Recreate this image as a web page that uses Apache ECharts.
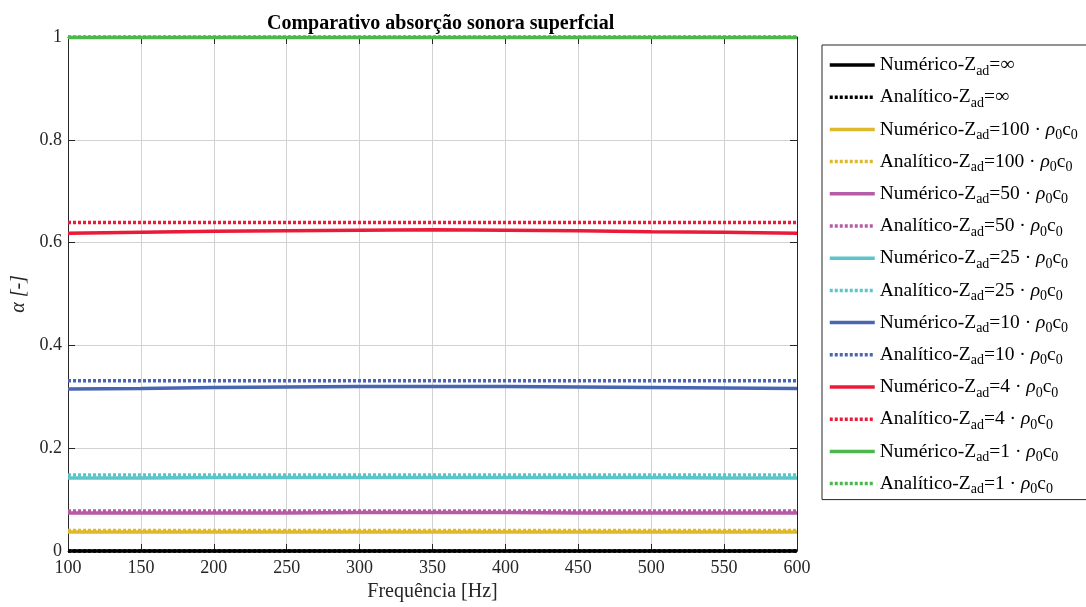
<!DOCTYPE html>
<html>
<head>
<meta charset="utf-8">
<script src="https://cdn.jsdelivr.net/npm/echarts@6/dist/echarts.min.js"></script>
<style>html,body{margin:0;padding:0;background:#fff;overflow:hidden;}#c{width:1086px;height:607px;}</style>
</head>
<body>
<div id="c"></div>
<script>
// ---- data ----
const freqs = [100, 150, 200, 250, 300, 350, 400, 450, 500, 550, 600];
const impedances = ['∞', '100', '50', '25', '10', '4', '1'];
const colors = ['#000000', '#e0b82b', '#b65ba7', '#5bc5ca', '#4a66b0', '#ea1b38', '#4cb84a'];
const numInf  = [0, 0, 0, 0, 0, 0, 0, 0, 0, 0, 0];
const anaInf  = [0, 0, 0, 0, 0, 0, 0, 0, 0, 0, 0];
const num100  = [0.037, 0.037, 0.037, 0.037, 0.037, 0.037, 0.037, 0.037, 0.037, 0.037, 0.037];
const ana100  = [0.040, 0.040, 0.040, 0.040, 0.040, 0.040, 0.040, 0.040, 0.040, 0.040, 0.040];
const num50   = [0.074, 0.074, 0.074, 0.074, 0.075, 0.075, 0.075, 0.074, 0.074, 0.074, 0.074];
const ana50   = [0.078, 0.078, 0.078, 0.078, 0.078, 0.078, 0.078, 0.078, 0.078, 0.078, 0.078];
const num25   = [0.142, 0.142, 0.143, 0.143, 0.143, 0.143, 0.143, 0.143, 0.143, 0.142, 0.142];
const ana25   = [0.148, 0.148, 0.148, 0.148, 0.148, 0.148, 0.148, 0.148, 0.148, 0.148, 0.148];
const num10   = [0.315, 0.316, 0.318, 0.319, 0.320, 0.320, 0.320, 0.319, 0.318, 0.317, 0.316];
const ana10   = [0.331, 0.331, 0.331, 0.331, 0.331, 0.331, 0.331, 0.331, 0.331, 0.331, 0.331];
const num4    = [0.618, 0.620, 0.622, 0.623, 0.624, 0.625, 0.624, 0.623, 0.621, 0.620, 0.618];
const ana4    = [0.639, 0.639, 0.639, 0.639, 0.639, 0.639, 0.639, 0.639, 0.639, 0.639, 0.639];
const num1    = [0.999, 0.999, 0.999, 0.999, 0.999, 0.999, 0.999, 0.999, 0.999, 0.999, 0.999];
const ana1    = [1.0, 1.0, 1.0, 1.0, 1.0, 1.0, 1.0, 1.0, 1.0, 1.0, 1.0];
const numericalSets = [numInf, num100, num50, num25, num10, num4, num1];
const analyticSets  = [anaInf, ana100, ana50, ana25, ana10, ana4, ana1];
const xTicks = [100, 150, 200, 250, 300, 350, 400, 450, 500, 550, 600];
const yTicks = [0, 0.2, 0.4, 0.6, 0.8, 1];

const FONT = '"Liberation Serif", "DejaVu Serif", serif';

const series = [];
const legendMeta = {};
impedances.forEach((z, i) => {
  const pairs = [['Numérico', numericalSets[i], 'solid'], ['Analítico', analyticSets[i], [3, 2]]];
  pairs.forEach(([kind, vals, ltype]) => {
    const name = kind + '-Zad=' + z;
    legendMeta[name] = {kind: kind, z: z};
    series.push({
      name: name,
      type: 'line',
      data: freqs.map((f, k) => [f, vals[k]]),
      showSymbol: false,
      symbol: 'none',
      clip: false,
      color: colors[i],
      lineStyle: {color: colors[i], width: 3.5, type: ltype},
      emphasis: {disabled: true},
      silent: true,
      animation: false
    });
  });
});

function legendFmt(name) {
  const m = legendMeta[name];
  let s = '{t|' + m.kind + '-Z}{sub|ad}';
  if (m.z === '∞') {
    s += '{t|=∞}';
  } else {
    s += '{t|=' + m.z + ' · }{it|ρ}{sub|0}{t|c}{sub|0}';
  }
  return s;
}

const chart = echarts.init(document.getElementById('c'), null, {renderer: 'canvas', width: 1086, height: 607});
chart.setOption({
  animation: false,
  backgroundColor: '#ffffff',
  title: {
    text: 'Comparativo absorção sonora superfcial',
    left: 262, top: 9,
    textStyle: {fontFamily: FONT, fontSize: 20, fontWeight: 'bold', color: '#000'}
  },
  grid: {left: 68, top: 37, width: 729, height: 520, containLabel: false},
  xAxis: [{
    type: 'value', min: 100, max: 600, interval: 50,
    name: 'Frequência [Hz]', nameLocation: 'middle', nameGap: 31,
    nameTextStyle: {fontFamily: FONT, fontSize: 20, color: '#262626'},
    axisLine: {show: true, lineStyle: {color: '#262626', width: 1}},
    axisTick: {show: true, inside: true, length: 7, lineStyle: {color: '#262626'}},
    axisLabel: {fontFamily: FONT, fontSize: 18, color: '#262626', margin: 8},
    splitLine: {show: true, lineStyle: {color: '#d2d2d2', width: 1}}
  }, {
    type: 'value', position: 'top', min: 100, max: 600, interval: 50,
    axisLine: {show: true, onZero: false, lineStyle: {color: '#262626', width: 1}},
    axisTick: {show: true, inside: true, length: 7, lineStyle: {color: '#262626'}},
    axisLabel: {show: false}, splitLine: {show: false}
  }],
  yAxis: [{
    type: 'value', min: 0, max: 1, interval: 0.2,
    name: 'α [-]', nameLocation: 'middle', nameGap: 32, nameRotate: 90,
    nameTextStyle: {fontFamily: FONT, fontSize: 20, color: '#262626', fontStyle: 'italic'},
    axisLine: {show: true, lineStyle: {color: '#262626', width: 1}},
    axisTick: {show: true, inside: true, length: 7, lineStyle: {color: '#262626'}},
    axisLabel: {fontFamily: FONT, fontSize: 18, color: '#262626', margin: 6,
      formatter: v => String(+v.toFixed(1))},
    splitLine: {show: true, lineStyle: {color: '#d2d2d2', width: 1}}
  }, {
    type: 'value', position: 'right', min: 0, max: 1, interval: 0.2,
    axisLine: {show: true, onZero: false, lineStyle: {color: '#262626', width: 1}},
    axisTick: {show: true, inside: true, length: 7, lineStyle: {color: '#262626'}},
    axisLabel: {show: false}, splitLine: {show: false}
  }],
  legend: {
    orient: 'vertical',
    left: 822, top: 45,
    padding: [7, 14, 3, 6],
    itemGap: 6.2,
    itemWidth: 45, itemHeight: 14,
    borderColor: '#262626', borderWidth: 1,
    backgroundColor: '#ffffff',
    selectedMode: false,
    itemStyle: {opacity: 0},
    lineStyle: {width: 3.5},
    data: series.map(s => s.name),
    formatter: legendFmt,
    textStyle: {
      fontFamily: FONT, fontSize: 19.5, color: '#000', lineHeight: 24,
      rich: {
        t: {fontFamily: FONT, fontSize: 19.5, color: '#000', lineHeight: 24},
        it: {fontFamily: FONT, fontSize: 19.5, color: '#000', fontStyle: 'italic', lineHeight: 24},
        sub: {fontFamily: FONT, fontSize: 14, color: '#000', lineHeight: 24, padding: [12, 0, 0, 0]}
      }
    }
  },
  series: series
});
</script>
</body>
</html>
